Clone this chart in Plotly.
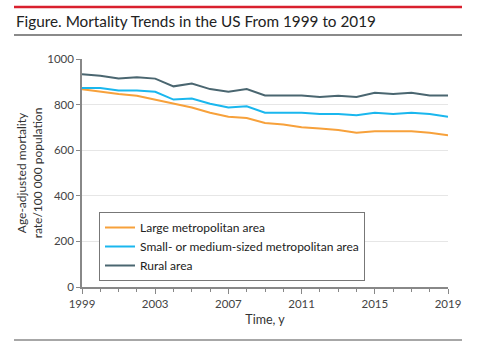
import plotly.graph_objects as go

years = list(range(1999, 2020))
large_metro = [867, 856, 846, 839, 822, 804, 787, 764, 747, 741, 719, 713, 701, 695, 689, 677, 683, 683, 683, 677, 665]
small_medium = [873, 873, 862, 862, 856, 822, 827, 804, 787, 793, 764, 764, 764, 759, 759, 753, 764, 759, 764, 759, 747]
rural = [933, 927, 914, 920, 914, 880, 892, 868, 856, 868, 840, 840, 840, 833, 839, 833, 852, 846, 852, 840, 840]

series_names = ["Large metropolitan area", "Small- or medium-sized metropolitan area", "Rural area"]
series_colors = ["#f7a13b", "#1ab7ee", "#4a6670"]

W, H = 478, 349
L, R, T, B = 82, 30, 59, 62
pw, ph = W - L - R, H - T - B

def px(x):
    return (x - L) / pw

def py(y):
    return (H - B - y) / ph

fig = go.Figure()
for name, vals, col in zip(series_names, [large_metro, small_medium, rural], series_colors):
    fig.add_trace(go.Scatter(x=years, y=vals, mode="lines", name=name,
                             line=dict(color=col, width=2)))

font_family = "Lato, 'Open Sans', sans-serif"
fig.update_layout(
    width=W, height=H,
    margin=dict(l=L, r=R, t=T, b=B),
    paper_bgcolor="white", plot_bgcolor="white",
    font=dict(family=font_family, color="#333333", size=11),
    showlegend=True,
    legend=dict(x=px(99), y=py(212), xanchor="left", yanchor="top",
                bordercolor="#777777", borderwidth=1, bgcolor="white",
                font=dict(size=12, color="#222222"),
                tracegroupgap=0, itemwidth=30),
    xaxis=dict(range=[1999, 2019], tick0=1999, dtick=4, showgrid=False,
               showline=True, linecolor="#888888", linewidth=1.5,
               ticks="outside", ticklen=5, tickcolor="#888888",
               minor=dict(dtick=1, ticks="outside", ticklen=3, tickcolor="#888888", showgrid=False),
               tickfont=dict(size=11.5, color="#444444"),
               title=dict(text="Time, y", font=dict(size=12.5, color="#333333"), standoff=7),
               zeroline=False),
    yaxis=dict(range=[0, 1000], dtick=200, showgrid=True, gridcolor="#e6e6e6",
               showline=True, linecolor="#888888", linewidth=1.5,
               ticks="outside", ticklen=4, tickcolor="#888888",
               tickfont=dict(size=11.5, color="#444444"),
               title=dict(text="Age-adjusted mortality<br>rate/100 000 population",
                          font=dict(size=12, color="#333333"), standoff=2),
               zeroline=False),
)

fig.add_shape(type="line", xref="paper", yref="paper", x0=px(14), x1=px(462),
              y0=py(7), y1=py(7), line=dict(color="#d9202e", width=2.5))
fig.add_shape(type="line", xref="paper", yref="paper", x0=px(14), x1=px(462),
              y0=py(35), y1=py(35), line=dict(color="#8a8a8a", width=2))
fig.add_shape(type="line", xref="paper", yref="paper", x0=px(14), x1=px(462),
              y0=py(340), y1=py(340), line=dict(color="#8a8a8a", width=1.5))
fig.add_annotation(text="Figure. Mortality Trends in the US From 1999 to 2019",
                   xref="paper", yref="paper", x=px(14), y=py(21), xanchor="left", yanchor="middle",
                   showarrow=False, font=dict(size=15.3, color="#222222", family=font_family))

fig.write_html("out.html")
